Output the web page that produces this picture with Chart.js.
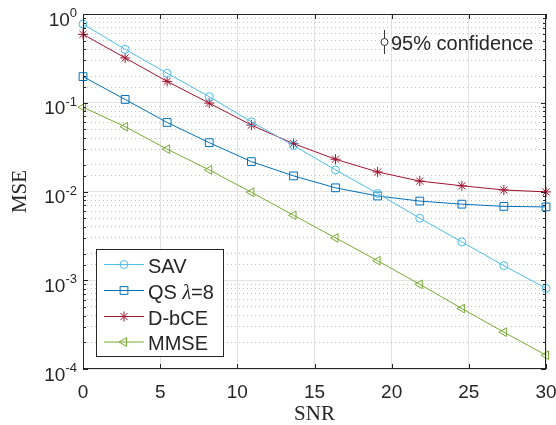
<!DOCTYPE html>
<html>
<head>
<meta charset="utf-8">
<script src="https://cdn.jsdelivr.net/npm/chart.js@4/dist/chart.umd.min.js"></script>
<style>
  body { margin: 0; background: #fff; }
</style>
</head>
<body>
<canvas id="myChart" width="556" height="425"></canvas>
<script>
const canvas = document.getElementById('myChart')

// values
const snr = [0, 2.73, 5.45, 8.18, 10.91, 13.64, 16.36, 19.09, 21.82, 24.55, 27.27, 30]
const sav = [0.77, 0.40, 0.215, 0.117, 0.061, 0.033, 0.0175, 0.0095, 0.005, 0.0027, 0.00146, 0.00081]
const qs = [0.197, 0.109, 0.060, 0.0355, 0.0217, 0.015, 0.011, 0.0089, 0.0078, 0.0072, 0.0068, 0.0067]
const dbce = [0.59, 0.32, 0.174, 0.099, 0.056, 0.0346, 0.0231, 0.0166, 0.0131, 0.0116, 0.0104, 0.0099]
const mmse = [0.089, 0.0537, 0.030, 0.0175, 0.0098, 0.0054, 0.003, 0.00166, 0.0009, 0.00048, 0.00026, 0.000143]
const seriesNames = ['SAV', 'QS λ=8', 'D-bCE', 'MMSE']
const xTicks = [0, 5, 10, 15, 20, 25, 30]
const yExponents = [-4, -3, -2, -1, 0]
const noteText = '95% confidence'

const styles = [
    {color: '#4DBEEE', pointStyle: 'circle', radius: 4, rotation: 0},
    {color: '#0072BD', pointStyle: 'rect', radius: 5.5, rotation: 0},
    {color: '#A2142F', pointStyle: 'star', radius: 5, rotation: 0},
    {color: '#77AC30', pointStyle: 'triangle', radius: 5, rotation: -90}
]

const ink = '#262626'
const sans = 'Liberation Sans'

function isDecade(v) {
    const l = Math.log10(v)
    return Math.abs(l - Math.round(l)) < 1e-6
}

function makeDataset(label, values, st) {
    return {
        label,
        data: snr.map((x, i) => ({x, y: values[i]})),
        borderColor: st.color,
        borderWidth: 1,
        pointStyle: st.pointStyle,
        pointRadius: st.radius,
        pointRotation: st.rotation,
        pointBorderColor: st.color,
        pointBackgroundColor: 'rgba(0,0,0,0)',
        pointBorderWidth: 1,
        tension: 0,
        clip: false
    }
}

// box, inner ticks, y labels, legend and the note
const frame = {
    id: 'frame',
    afterDraw(chart) {
        const {ctx, chartArea: a, scales: {x, y}} = chart
        ctx.save()
        ctx.strokeStyle = ink
        ctx.lineWidth = 1
        ctx.strokeRect(a.left + 0.5, a.top + 0.5, a.right - a.left - 1, a.bottom - a.top - 1)

        ctx.beginPath()
        xTicks.forEach(v => {
            const px = Math.round(x.getPixelForValue(v)) + 0.5
            ctx.moveTo(px, a.bottom); ctx.lineTo(px, a.bottom - 5)
            ctx.moveTo(px, a.top); ctx.lineTo(px, a.top + 5)
        })
        y.ticks.forEach(t => {
            const py = Math.round(y.getPixelForValue(t.value)) + 0.5
            const len = isDecade(t.value) ? 5 : 3
            ctx.moveTo(a.left, py); ctx.lineTo(a.left + len, py)
            ctx.moveTo(a.right, py); ctx.lineTo(a.right - len, py)
        })
        ctx.stroke()

        // y tick labels 10^n
        ctx.fillStyle = ink
        ctx.textBaseline = 'alphabetic'
        ctx.textAlign = 'right'
        yExponents.forEach(e => {
            const py = y.getPixelForValue(Math.pow(10, e))
            const exp = String(e)
            ctx.font = '13px ' + sans
            const ew = ctx.measureText(exp).width
            ctx.fillText(exp, 77, py + 3)
            ctx.font = '19px ' + sans
            ctx.fillText('10', 77 - ew, py + 11.5)
        })

        // legend
        const lx = 96.5, ly = 249.5, lw = 127, lh = 107
        ctx.fillStyle = '#fff'
        ctx.fillRect(lx, ly, lw, lh)
        ctx.strokeStyle = ink
        ctx.strokeRect(lx, ly, lw, lh)
        const rows = [264.5, 290.5, 316.5, 342]
        seriesNames.forEach((name, i) => {
            const st = styles[i]
            const ry = rows[i]
            ctx.strokeStyle = st.color
            ctx.lineWidth = 1
            ctx.beginPath()
            ctx.moveTo(104, ry); ctx.lineTo(144, ry)
            ctx.stroke()
            ctx.fillStyle = 'rgba(0,0,0,0)'
            Chart.helpers.drawPoint(ctx, {
                pointStyle: st.pointStyle, radius: st.radius,
                rotation: st.rotation, borderWidth: 1
            }, 124, ry)
            ctx.fillStyle = ink
            ctx.textAlign = 'left'
            ctx.textBaseline = 'alphabetic'
            const parts = name.split('λ')
            ctx.font = '20px ' + sans
            let tx = 148
            ctx.fillText(parts[0], tx, ry + 8)
            if (parts.length > 1) {
                tx += ctx.measureText(parts[0]).width
                ctx.font = 'italic 20px Liberation Serif'
                ctx.fillText('λ', tx, ry + 8)
                tx += ctx.measureText('λ').width
                ctx.font = '20px ' + sans
                ctx.fillText(parts[1], tx, ry + 8)
            }
        })

        // confidence note
        ctx.strokeStyle = '#333'
        ctx.beginPath()
        ctx.moveTo(384.5, 30); ctx.lineTo(384.5, 54)
        ctx.stroke()
        ctx.fillStyle = '#fff'
        ctx.beginPath()
        ctx.arc(384.5, 42, 3.5, 0, Math.PI * 2)
        ctx.fill(); ctx.stroke()
        ctx.fillStyle = ink
        ctx.font = '20px ' + sans
        ctx.textAlign = 'left'
        ctx.fillText(noteText, 391, 49.5)
        ctx.restore()
    }
}

const config = {
    type: 'line',
    data: {
        datasets: [
            makeDataset(seriesNames[0], sav, styles[0]),
            makeDataset(seriesNames[1], qs, styles[1]),
            makeDataset(seriesNames[2], dbce, styles[2]),
            makeDataset(seriesNames[3], mmse, styles[3])
        ]
    },
    options: {
        responsive: false,
        animation: false,
        layout: {padding: {top: 14, right: 10, left: 0, bottom: 0}},
        plugins: {legend: {display: false}, tooltip: {enabled: false}},
        scales: {
            x: {
                type: 'linear', min: 0, max: 30,
                afterBuildTicks: s => { s.ticks = xTicks.map(v => ({value: v})) },
                ticks: {color: ink, font: {family: sans, size: 19}, padding: 12, maxRotation: 0},
                grid: {color: '#e2e2e2', drawTicks: false},
                border: {display: false},
                title: {display: true, text: 'SNR', color: ink,
                    font: {family: 'Liberation Serif', size: 21, lineHeight: 1}, padding: {top: 0, bottom: 0}},
                afterFit: s => { s.height = 56; s.paddingLeft = 0; s.paddingRight = 0 }
            },
            y: {
                type: 'logarithmic', min: 1e-4, max: 1,
                ticks: {display: false},
                grid: {
                    color: c => isDecade(c.tick.value) ? '#e2e2e2' : '#c4c4c4',
                    drawTicks: false
                },
                border: {display: false, dash: c => isDecade(c.tick.value) ? [] : [1, 3]},
                title: {display: true, text: 'MSE', color: ink,
                    font: {family: 'Liberation Serif', size: 21, lineHeight: 1}, padding: {top: 9.5, bottom: 0}},
                afterFit: s => { s.width = 83; s.paddingTop = 0; s.paddingBottom = 0 }
            }
        }
    },
    plugins: [frame]
}

const myChart = new Chart(canvas, config)
</script>
</body>
</html>
